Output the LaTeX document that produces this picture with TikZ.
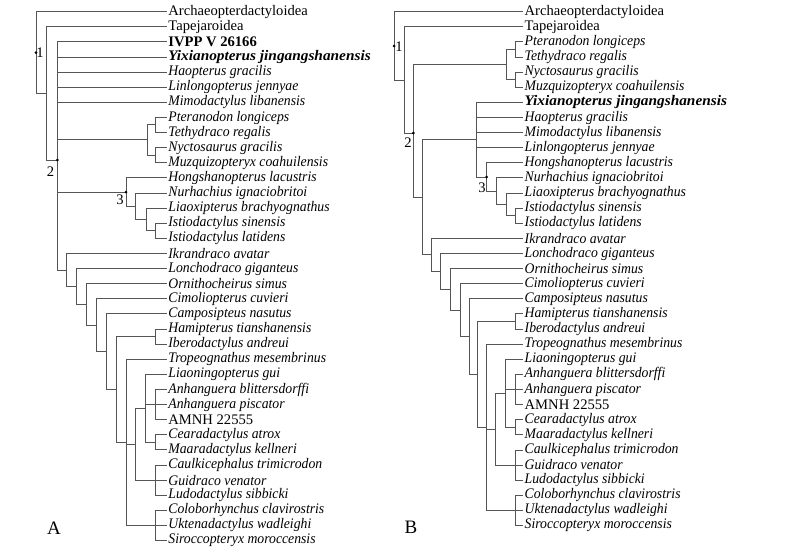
\documentclass[tikz,border=0pt]{standalone}
\usepackage{fontspec}
\setmainfont{Liberation Serif}[ItalicFeatures={FakeStretch=0.94}, BoldItalicFeatures={FakeStretch=1.05}]
\newcommand\tipfont{\fontsize{14.6}{15}\selectfont}
\definecolor{linec}{HTML}{555555}
\begin{document}
\begin{tikzpicture}[x=1pt,y=-1pt,
  tip/.style={anchor=west, inner xsep=1.2pt, inner ysep=0pt, font=\tipfont\itshape},
  tipr/.style={tip, font=\tipfont},
  tipb/.style={tip, font=\tipfont\bfseries},
  tipbi/.style={tip, font=\tipfont\bfseries\itshape},
  br/.style={draw=linec, line width=0.9pt},
  dotn/.style={circle, fill=black, inner sep=0pt, minimum size=3pt},
  numl/.style={font=\tipfont, inner sep=0pt},
  panel/.style={font=\fontsize{19}{19}\selectfont, inner sep=0pt}]
\useasboundingbox (0,0) rectangle (800,552);
% ---------------- Left tree tips
\node[tipr] (l0) at (167,11.7) {Archaeopterdactyloidea};
\node[tipr] (l1) at (167,26.8) {Tapejaroidea};
\node[tipb] (l2) at (167,41.9) {IVPP V 26166};
\node[tipbi] (l3) at (167,57.0) {Yixianopterus jingangshanensis};
\node[tip] (l4) at (167,72.1) {Haopterus gracilis};
\node[tip] (l5) at (167,87.3) {Linlongopterus jennyae};
\node[tip] (l6) at (167,102.4) {Mimodactylus libanensis};
\node[tip] (l7) at (167,117.5) {Pteranodon longiceps};
\node[tip] (l8) at (167,132.6) {Tethydraco regalis};
\node[tip] (l9) at (167,147.7) {Nyctosaurus gracilis};
\node[tip] (l10) at (167,162.8) {Muzquizopteryx coahuilensis};
\node[tip] (l11) at (167,177.9) {Hongshanopterus lacustris};
\node[tip] (l12) at (167,193.0) {Nurhachius ignaciobritoi};
\node[tip] (l13) at (167,208.1) {Liaoxipterus brachyognathus};
\node[tip] (l14) at (167,223.2) {Istiodactylus sinensis};
\node[tip] (l15) at (167,238.3) {Istiodactylus latidens};
\node[tip] (l16) at (167,253.5) {Ikrandraco avatar};
\node[tip] (l17) at (167,268.6) {Lonchodraco giganteus};
\node[tip] (l18) at (167,283.7) {Ornithocheirus simus};
\node[tip] (l19) at (167,298.8) {Cimoliopterus cuvieri};
\node[tip] (l20) at (167,313.9) {Camposipteus nasutus};
\node[tip] (l21) at (167,329.0) {Hamipterus tianshanensis};
\node[tip] (l22) at (167,344.1) {Iberodactylus andreui};
\node[tip] (l23) at (167,359.2) {Tropeognathus mesembrinus};
\node[tip] (l24) at (167,374.3) {Liaoningopterus gui};
\node[tip] (l25) at (167,389.5) {Anhanguera blittersdorffi};
\node[tip] (l26) at (167,404.6) {Anhanguera piscator};
\node[tipr] (l27) at (167,419.7) {AMNH 22555};
\node[tip] (l28) at (167,434.8) {Cearadactylus atrox};
\node[tip] (l29) at (167,449.9) {Maaradactylus kellneri};
\node[tip] (l30) at (167,465.0) {Caulkicephalus trimicrodon};
\node[tip] (l31) at (167,480.1) {Guidraco venator};
\node[tip] (l32) at (167,495.2) {Ludodactylus sibbicki};
\node[tip] (l33) at (167,510.3) {Coloborhynchus clavirostris};
\node[tip] (l34) at (167,525.4) {Uktenadactylus wadleighi};
\node[tip] (l35) at (167,540.5) {Siroccopteryx moroccensis};
% ---------------- Left tree internal nodes
\coordinate (la) at (36,52.5);
\coordinate (lb) at (46.7,93.4);
\coordinate (lc) at (57.3,160);
\coordinate (lpt) at (147,139.7);
\coordinate (lpt1) at (155,124.2);
\coordinate (lpt2) at (155,155.2);
\coordinate (ln3) at (126,192);
\coordinate (lnu) at (135,206.2);
\coordinate (lli) at (146,219.4);
\coordinate (list) at (155,230.8);
\coordinate (lik) at (66.7,270.0);
\coordinate (llo) at (76.7,286.5);
\coordinate (lor) at (86.7,304.5);
\coordinate (lci) at (96.7,325.2);
\coordinate (lca) at (106.7,351.7);
\coordinate (lA) at (116,389.5);
\coordinate (lha) at (155,336.6);
\coordinate (lB) at (126,442.3);
\coordinate (lC) at (135,444.2);
\coordinate (lD) at (145,408.3);
\coordinate (lanh) at (155,404.6);
\coordinate (lcea) at (155,442.4);
\coordinate (lcau) at (155,480.1);
\coordinate (lco) at (155,525.4);
% ---------------- Left connectors
\foreach \p/\cs in {la/{l0,lb}, lb/{l1,lc}, lc/{l2,l3,l4,l5,l6,lpt,ln3,lik},
  lpt/{lpt1,lpt2}, lpt1/{l7,l8}, lpt2/{l9,l10}, ln3/{l11,lnu}, lnu/{l12,lli},
  lli/{l13,list}, list/{l14,l15}, lik/{l16,llo}, llo/{l17,lor}, lor/{l18,lci},
  lci/{l19,lca}, lca/{l20,lA}, lA/{lha,lB}, lha/{l21,l22}, lB/{l23,lC,lco},
  lC/{lD,lcau}, lD/{l24,lanh,lcea}, lanh/{l25,l26,l27}, lcea/{l28,l29},
  lcau/{l30,l31,l32}, lco/{l33,l34,l35}}
  {\foreach \c in \cs {\draw[br] (\p) |- (\c);}}
\node[dotn] (ld1) at (la) {};
\node[dotn] (ld2) at (lc) {};
\node[dotn] (ld3) at (ln3) {};
\node[numl] (ln1l) at (40,52.5) {1};
\node[numl] (ln2l) at (50.5,171.5) {2};
\node[numl] (ln3l) at (120,200) {3};
\node[panel] (pA) at (54,528) {A};
% ---------------- Right tree tips
\node[tipr] (r0) at (523.3,11.7) {Archaeopterdactyloidea};
\node[tipr] (r1) at (523.3,26.8) {Tapejaroidea};
\node[tip] (r2) at (523.3,41.9) {Pteranodon longiceps};
\node[tip] (r3) at (523.3,57.0) {Tethydraco regalis};
\node[tip] (r4) at (523.3,72.1) {Nyctosaurus gracilis};
\node[tip] (r5) at (523.3,87.3) {Muzquizopteryx coahuilensis};
\node[tipbi] (r6) at (523.3,102.4) {Yixianopterus jingangshanensis};
\node[tip] (r7) at (523.3,117.5) {Haopterus gracilis};
\node[tip] (r8) at (523.3,132.6) {Mimodactylus libanensis};
\node[tip] (r9) at (523.3,147.7) {Linlongopterus jennyae};
\node[tip] (r10) at (523.3,162.8) {Hongshanopterus lacustris};
\node[tip] (r11) at (523.3,177.9) {Nurhachius ignaciobritoi};
\node[tip] (r12) at (523.3,193.0) {Liaoxipterus brachyognathus};
\node[tip] (r13) at (523.3,208.1) {Istiodactylus sinensis};
\node[tip] (r14) at (523.3,223.2) {Istiodactylus latidens};
\node[tip] (r15) at (523.3,238.3) {Ikrandraco avatar};
\node[tip] (r16) at (523.3,253.5) {Lonchodraco giganteus};
\node[tip] (r17) at (523.3,268.6) {Ornithocheirus simus};
\node[tip] (r18) at (523.3,283.7) {Cimoliopterus cuvieri};
\node[tip] (r19) at (523.3,298.8) {Camposipteus nasutus};
\node[tip] (r20) at (523.3,313.9) {Hamipterus tianshanensis};
\node[tip] (r21) at (523.3,329.0) {Iberodactylus andreui};
\node[tip] (r22) at (523.3,344.1) {Tropeognathus mesembrinus};
\node[tip] (r23) at (523.3,359.2) {Liaoningopterus gui};
\node[tip] (r24) at (523.3,374.3) {Anhanguera blittersdorffi};
\node[tip] (r25) at (523.3,389.5) {Anhanguera piscator};
\node[tipr] (r26) at (523.3,404.6) {AMNH 22555};
\node[tip] (r27) at (523.3,419.7) {Cearadactylus atrox};
\node[tip] (r28) at (523.3,434.8) {Maaradactylus kellneri};
\node[tip] (r29) at (523.3,450.0) {Caulkicephalus trimicrodon};
\node[tip] (r30) at (523.3,465.0) {Guidraco venator};
\node[tip] (r31) at (523.3,480.1) {Ludodactylus sibbicki};
\node[tip] (r32) at (523.3,495.2) {Coloborhynchus clavirostris};
\node[tip] (r33) at (523.3,510.3) {Uktenadactylus wadleighi};
\node[tip] (r34) at (523.3,525.4) {Siroccopteryx moroccensis};
% ---------------- Right tree internal nodes
\coordinate (ra) at (394,46);
\coordinate (rb) at (404.3,80);
\coordinate (rc) at (413.3,133);
\coordinate (rpt) at (506,64.6);
\coordinate (rpt1) at (515,49.4);
\coordinate (rpt2) at (515,79.7);
\coordinate (ro) at (422.7,197.2);
\coordinate (ry) at (476.7,139.5);
\coordinate (rn3) at (486.7,177);
\coordinate (rnu) at (496.7,191.1);
\coordinate (rli) at (506,204.3);
\coordinate (rist) at (515,215.7);
\coordinate (rik) at (431.7,254.9);
\coordinate (rlo) at (440,271.4);
\coordinate (ror) at (450,289.4);
\coordinate (rci) at (460,310.1);
\coordinate (rca) at (469.3,336.6);
\coordinate (rA) at (477.7,374.3);
\coordinate (rha) at (515,321.4);
\coordinate (rB) at (486.7,427.2);
\coordinate (rC) at (495,429.1);
\coordinate (rD) at (505,393.2);
\coordinate (ranh) at (515,389.5);
\coordinate (rcea) at (515,427.3);
\coordinate (rcau) at (515,465.0);
\coordinate (rco) at (515,510.3);
% ---------------- Right connectors
\foreach \p/\cs in {ra/{r0,rb}, rb/{r1,rc}, rc/{rpt,ro}, rpt/{rpt1,rpt2},
  rpt1/{r2,r3}, rpt2/{r4,r5}, ro/{ry,rik}, ry/{r6,r7,r8,r9,rn3},
  rn3/{r10,rnu}, rnu/{r11,rli}, rli/{r12,rist}, rist/{r13,r14},
  rik/{r15,rlo}, rlo/{r16,ror}, ror/{r17,rci}, rci/{r18,rca}, rca/{r19,rA},
  rA/{rha,rB}, rha/{r20,r21}, rB/{r22,rC,rco}, rC/{rD,rcau},
  rD/{r23,ranh,rcea}, ranh/{r24,r25,r26}, rcea/{r27,r28},
  rcau/{r29,r30,r31}, rco/{r32,r33,r34}}
  {\foreach \c in \cs {\draw[br] (\p) |- (\c);}}
\node[dotn] (rd1) at (ra) {};
\node[dotn] (rd2) at (rc) {};
\node[dotn] (rd3) at (rn3) {};
\node[numl] (rn1l) at (399,47) {1};
\node[numl] (rn2l) at (408,143) {2};
\node[numl] (rn3l) at (482,187.5) {3};
\node[panel] (pB) at (411,527) {B};
\end{tikzpicture}
\end{document}
